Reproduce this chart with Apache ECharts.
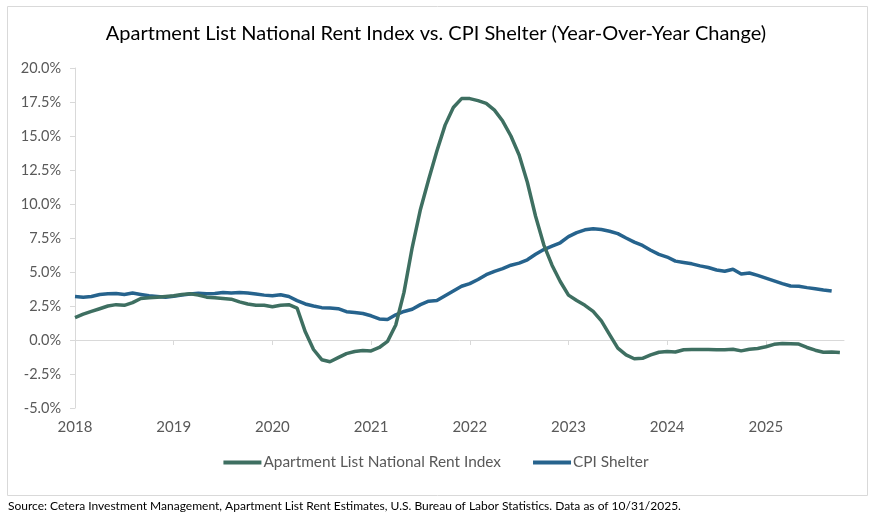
<!DOCTYPE html>
<html><head><meta charset="utf-8">
<script src="https://cdn.jsdelivr.net/npm/echarts@6/dist/echarts.min.js"></script>
<style>html,body{margin:0;padding:0;background:#fff}#c{width:872px;height:520px}</style>
</head><body><div id="c"></div>
<script>
// Month index 0 = Jan 2018 ... 93 = Oct 2025
const startYear = 2018;
const yearTicks = [0, 12, 24, 36, 48, 60, 72, 84];
const yTicks = [-5, 20, 2.5]; // min, max, interval

const apartmentList = [
  1.65, 1.9, 2.1, 2.3, 2.5, 2.6, 2.55, 2.75, 3.05, 3.1, 3.15, 3.2,
  3.25, 3.35, 3.4, 3.3, 3.15, 3.1, 3.05, 3.0, 2.8, 2.65, 2.55, 2.55,
  2.45, 2.55, 2.6, 2.35, 0.6, -0.7, -1.45, -1.6, -1.3, -1.0, -0.85, -0.78,
  -0.8, -0.55, -0.1, 1.1, 3.5, 6.8, 9.6, 11.8, 13.9, 15.8, 17.1, 17.75,
  17.75, 17.6, 17.4, 16.9, 16.1, 15.0, 13.6, 11.6, 9.1, 7.0, 5.5, 4.3,
  3.3, 2.9, 2.55, 2.1, 1.4, 0.4, -0.6, -1.1, -1.38, -1.35, -1.1, -0.9,
  -0.85, -0.88, -0.72, -0.69, -0.69, -0.7, -0.72, -0.72, -0.68, -0.8, -0.68, -0.62,
  -0.5, -0.32, -0.25, -0.27, -0.3, -0.55, -0.75, -0.9, -0.88, -0.92
];

const cpiShelter = [
  3.2, 3.15, 3.2, 3.35, 3.4, 3.42, 3.35, 3.45, 3.35, 3.25, 3.2, 3.15,
  3.22, 3.3, 3.38, 3.43, 3.4, 3.42, 3.5, 3.45, 3.5, 3.45, 3.38, 3.3,
  3.25, 3.33, 3.2, 2.9, 2.65, 2.5, 2.38, 2.35, 2.3, 2.08, 2.03, 1.95,
  1.78, 1.55, 1.5, 1.85, 2.1, 2.26, 2.6, 2.85, 2.9, 3.25, 3.6, 3.95,
  4.15, 4.45, 4.8, 5.05, 5.25, 5.5, 5.65, 5.9, 6.3, 6.65, 6.9, 7.15,
  7.6, 7.9, 8.1, 8.18, 8.12, 8.0, 7.82, 7.5, 7.2, 6.95, 6.6, 6.3,
  6.1, 5.8, 5.7, 5.6, 5.45, 5.33, 5.15, 5.05, 5.2, 4.85, 4.93, 4.75,
  4.55, 4.35, 4.15, 3.97, 3.95, 3.85, 3.77, 3.68, 3.6
];

const seriesNames = ['Apartment List National Rent Index', 'CPI Shelter'];
const titleText = 'Apartment List National Rent Index vs. CPI Shelter (Year-Over-Year Change)';
const sourceText = 'Source: Cetera Investment Management, Apartment List Rent Estimates, U.S. Bureau of Labor Statistics. Data as of 10/31/2025.';

const GREEN = '#3e6f61', BLUE = '#26638d';
const FONT = 'Lato, "Open Sans", sans-serif';
const toPairs = arr => arr.map((v, i) => [i, v]);

const chart = echarts.init(document.getElementById('c'));
chart.setOption({
  animation: false,
  textStyle: { fontFamily: FONT },
  title: {
    text: titleText, left: 'center', top: 19,
    textStyle: { fontFamily: FONT, fontSize: 20, fontWeight: 'normal', color: '#000' }
  },
  legend: {
    bottom: 45, left: 'center', icon: 'rect', itemWidth: 38, itemHeight: 4, itemGap: 32,
    textStyle: { fontFamily: FONT, fontSize: 15.4, color: '#595959', padding: [0, 0, 0, -3] },
    data: seriesNames
  },
  grid: { left: 75, right: 28, top: 68, bottom: 112 },
  xAxis: [{
    type: 'value', min: 0, max: 93.5, interval: 12,
    axisLine: { onZero: true, lineStyle: { color: '#d9d9d9', width: 1 } },
    axisTick: { show: true, length: 5, customValues: yearTicks, lineStyle: { color: '#d9d9d9' } },
    axisLabel: { show: false }, splitLine: { show: false }
  }, {
    type: 'value', min: 0, max: 93.5, interval: 12, position: 'bottom',
    axisLine: { show: false, onZero: false }, axisTick: { show: false }, splitLine: { show: false },
    axisLabel: {
      customValues: yearTicks, margin: 12,
      formatter: v => String(startYear + Math.round(v / 12)),
      fontFamily: FONT, fontSize: 15, color: '#595959'
    }
  }],
  yAxis: {
    type: 'value', min: yTicks[0], max: yTicks[1], interval: yTicks[2],
    axisLine: { show: true, lineStyle: { color: '#d9d9d9' } },
    axisTick: { show: true, length: 5, lineStyle: { color: '#d9d9d9' } },
    splitLine: { show: false },
    axisLabel: { formatter: v => v.toFixed(1) + '%', fontFamily: FONT, fontSize: 14.5, color: '#595959', margin: 14 }
  },
  series: [
    { name: seriesNames[0], type: 'line', xAxisIndex: 0, data: toPairs(apartmentList), showSymbol: false,
      lineStyle: { color: GREEN, width: 3.5 }, itemStyle: { color: GREEN }, z: 3 },
    { name: seriesNames[1], type: 'line', xAxisIndex: 0, data: toPairs(cpiShelter), showSymbol: false,
      lineStyle: { color: BLUE, width: 3.5 }, itemStyle: { color: BLUE }, z: 2 }
  ],
  graphic: [
    { type: 'rect', left: 5, top: 4, shape: { width: 860, height: 489 }, silent: true,
      style: { fill: 'none', stroke: '#d9d9d9', lineWidth: 1 } },
    { type: 'text', left: 8, top: 500, silent: true,
      style: { text: sourceText, fontFamily: FONT, fontSize: 12, fill: '#000' } }
  ]
});
</script></body></html>
